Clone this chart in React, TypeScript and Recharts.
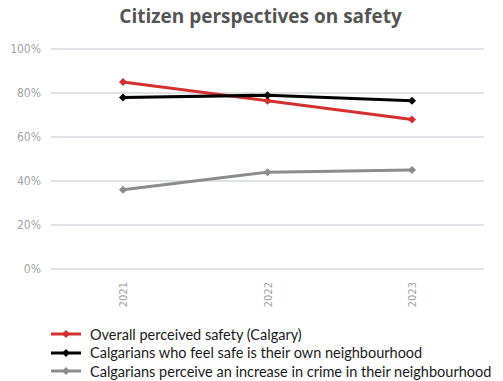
import React from 'react';
import { LineChart, Line, XAxis, YAxis, CartesianGrid } from 'recharts';

const years = ['2021', '2022', '2023'];
const overallSafety = [85, 76.5, 68];
const safeInNeighbourhood = [78, 79, 76.5];
const crimeIncrease = [36, 44, 45];
const yTicks = [0, 20, 40, 60, 80, 100];

const SERIES = [
  { key: 'overall', name: 'Overall perceived safety (Calgary)', color: '#D3302F' },
  { key: 'safe', name: 'Calgarians who feel safe is their own neighbourhood', color: '#000000' },
  { key: 'crime', name: 'Calgarians perceive an increase in crime in their neighbourhood', color: '#8C8C8C' },
];

const data = years.map((year, i) => ({
  year,
  overall: overallSafety[i],
  safe: safeInNeighbourhood[i],
  crime: crimeIncrease[i],
}));

const NARROW = '"Liberation Sans Narrow", "DejaVu Sans Condensed", sans-serif';

const Diamond = (props: any) => {
  const { cx, cy, stroke } = props;
  if (cx == null || cy == null) return null;
  const r = 4;
  return (
    <path
      d={`M${cx},${cy - r}L${cx + r},${cy}L${cx},${cy + r}L${cx - r},${cy}Z`}
      fill={stroke}
      stroke="none"
    />
  );
};

// rotated year labels, top of text sits just under the 0% line
const YearTick = (props: any) => {
  const { x, payload } = props;
  return (
    <text
      x={0}
      y={0}
      transform={`translate(${x + 4},282) rotate(-90)`}
      textAnchor="end"
      fill="#A3A3A3"
      fontSize={11}
      fontFamily={NARROW}
    >
      {payload.value}
    </text>
  );
};

const App: React.FC = () => {
  return (
    <div style={{ position: 'absolute', left: 0, top: 0, width: 503, height: 381, background: '#fff' }}>
      <div
        style={{
          position: 'absolute',
          left: 0,
          width: 521,
          top: 3,
          textAlign: 'center',
          fontFamily: '"Open Sans", sans-serif',
          fontWeight: 700,
          fontSize: 19,
          color: '#555555',
        }}
      >
        Citizen perspectives on safety
      </div>
      <LineChart width={503} height={320} data={data} margin={{ top: 49, right: 19, left: 0, bottom: 0 }}>
        <CartesianGrid vertical={false} stroke="#D5D9DE" strokeWidth={1.5} />
        <XAxis
          dataKey="year"
          axisLine={false}
          tickLine={false}
          height={51}
          padding={{ left: 72, right: 72 }}
          tick={<YearTick />}
          interval={0}
        />
        <YAxis
          domain={[0, 100]}
          ticks={yTicks}
          width={51}
          axisLine={false}
          tickLine={false}
          tickFormatter={(v: number) => `${v}%`}
          tick={{ fill: '#A3A3A3', fontSize: 12, fontFamily: NARROW }}
          tickMargin={4}
        />
        {SERIES.map((s) => (
          <Line
            key={s.key}
            dataKey={s.key}
            name={s.name}
            stroke={s.color}
            strokeWidth={3}
            dot={<Diamond />}
            activeDot={false}
            isAnimationActive={false}
          />
        ))}
      </LineChart>
      <div style={{ position: 'absolute', left: 51, top: 325 }}>
        {SERIES.map((s) => (
          <div key={s.key} style={{ display: 'flex', alignItems: 'center', height: 18.5 }}>
            <svg width="30" height="10" viewBox="0 0 30 10">
              <line x1="0" y1="5" x2="30" y2="5" stroke={s.color} strokeWidth="3" />
              <path d="M15,1L19,5L15,9L11,5Z" fill={s.color} />
            </svg>
            <span
              style={{
                marginLeft: 9,
                fontFamily: 'Lato, sans-serif',
                fontSize: 14.5,
                color: '#1A1A1A',
                whiteSpace: 'nowrap',
              }}
            >
              {s.name}
            </span>
          </div>
        ))}
      </div>
    </div>
  );
};

export default App;
